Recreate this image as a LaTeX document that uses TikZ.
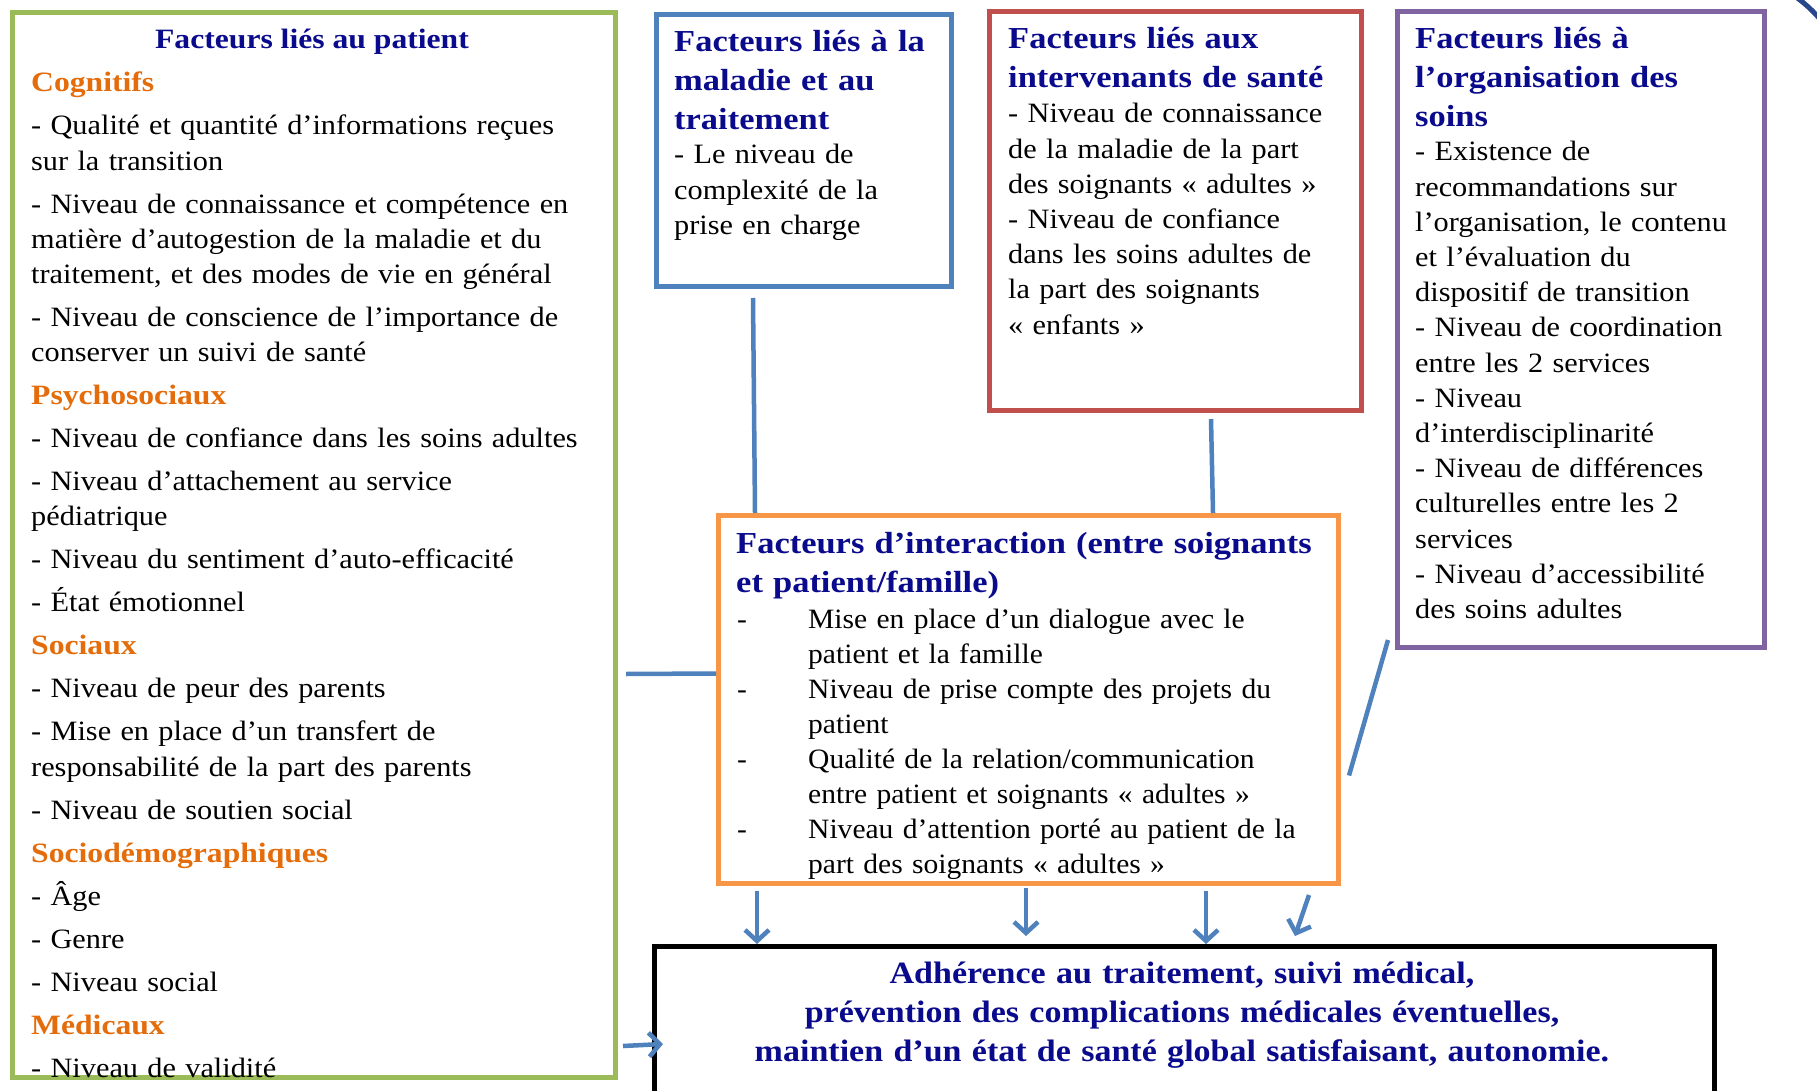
\documentclass[tikz,border=0pt]{standalone}
\usepackage{fontspec}
\setmainfont{Liberation Serif}
\newfontfamily\bodyfont{Liberation Serif}[FakeStretch=1.082]
\newfontfamily\narrowfont{Liberation Serif}[FakeStretch=1.055]
\newfontfamily\headfont{Liberation Serif}[FakeStretch=1.13]
\newfontfamily\resfont{Liberation Serif}[FakeStretch=1.097]
\usetikzlibrary{arrows.meta}
\definecolor{navytxt}{RGB}{10,10,140}
\definecolor{subor}{RGB}{228,108,10}
\definecolor{bgreen}{RGB}{155,187,89}
\definecolor{bblue}{RGB}{79,129,189}
\definecolor{bred}{RGB}{192,80,77}
\definecolor{bpurple}{RGB}{128,100,162}
\definecolor{borange}{RGB}{247,150,70}
\definecolor{lineblue}{RGB}{79,129,189}
\definecolor{arcblue}{RGB}{40,70,140}
\newcommand\subhd[1]{{\headfont\bfseries\color{subor}#1}}
\newcommand\odash{\leavevmode\llap{\makebox[71pt][l]{-}}}
\tikzset{
  box/.style={line width=5pt, inner sep=0pt, anchor=north west, fill=white},
  body/.style={anchor=base west, inner sep=0pt, align=left, text width=#1,
    font=\bodyfont\fontsize{28}{35.2}\selectfont},
  boxtitle/.style={anchor=base west, inner sep=0pt, align=left, text width=#1,
    text=navytxt, font=\headfont\bfseries\fontsize{30.5}{38.6}\selectfont},
  conn/.style={draw=lineblue, line width=4.5pt},
  arr/.style={conn, -{Straight Barb[length=11pt,width=24pt]}},
}
\begin{document}
\begin{tikzpicture}[x=1pt,y=-1pt]
\useasboundingbox (0,0) rectangle (1817,1091);
\clip (0,0) rectangle (1817,1091);
\fill[white] (0,0) rectangle (1817,1091);

% boxes
\node[box, draw=bgreen, minimum width=603pt, minimum height=1065pt] (green) at (10,10) {};
\node[box, draw=bblue, minimum width=295pt, minimum height=272pt] (blue) at (654,12) {};
\node[box, draw=bred, minimum width=372pt, minimum height=399pt] (red) at (987,9) {};
\node[box, draw=bpurple, minimum width=367pt, minimum height=636pt] (purple) at (1395,9) {};
\node[box, draw=borange, minimum width=620pt, minimum height=368pt] (orange) at (716,513) {};
\node[box, draw=black, minimum width=1060pt, minimum height=180pt] (result) at (652,944) {};

% corner arc
\draw[arcblue, line width=5pt] (1792,-6) .. controls (1803,2) and (1813,10) .. (1824,24);

% connectors
\draw[conn] ([xshift=99pt,yshift=-9pt]blue.south west) -- ([xshift=39pt]orange.north west);
\draw[conn] ([xshift=224pt,yshift=-6pt]red.south west) -- ([xshift=497pt]orange.north west);
\draw[conn] ([xshift=8pt,yshift=-664pt]green.north east) -- ([yshift=26pt]orange.west);
\draw[conn] ([xshift=-7pt,yshift=10pt]purple.south west) -- ([xshift=8pt,yshift=-76pt]orange.east);
\draw[arr] ([xshift=41pt,yshift=-5pt]orange.south west) -- ([xshift=105pt]result.north west);
\draw[arr] ([xshift=310pt,yshift=-2pt]orange.south west) -- ([xshift=374pt,yshift=8pt]result.north west);
\draw[arr] ([xshift=490pt,yshift=-5pt]orange.south west) -- ([xshift=554pt]result.north west);
\draw[arr] ([xshift=593pt,yshift=-9pt]orange.south west) -- ([xshift=643pt,yshift=8pt]result.north west);
\draw[arr] ([xshift=5pt,yshift=34pt]green.south east) -- ([xshift=11pt,yshift=-100pt]result.north west);

% green box text
\node[anchor=base, inner sep=0pt, text=navytxt, font=\headfont\bfseries\fontsize{28}{35.2}\selectfont] (gtitle) at (312,49) {Facteurs liés au patient};
\node[body=570pt] (gbody) at (31,92) {%
\subhd{Cognitifs}\\[7.8pt]
- Qualité et quantité d’informations reçues\\
sur la transition\\[7.8pt]
- Niveau de connaissance et compétence en\\
matière d’autogestion de la maladie et du\\
traitement, et des modes de vie en général\\[7.8pt]
- Niveau de conscience de l’importance de\\
conserver un suivi de santé\\[7.8pt]
\subhd{Psychosociaux}\\[7.8pt]
- Niveau de confiance dans les soins adultes\\[7.8pt]
- Niveau d’attachement au service\\
pédiatrique\\[7.8pt]
- Niveau du sentiment d’auto-efficacité\\[7.8pt]
- État émotionnel\\[7.8pt]
\subhd{Sociaux}\\[7.8pt]
- Niveau de peur des parents\\[7.8pt]
- Mise en place d’un transfert de\\
responsabilité de la part des parents\\[7.8pt]
- Niveau de soutien social\\[7.8pt]
\subhd{Sociodémographiques}\\[7.8pt]
- Âge\\[7.8pt]
- Genre\\[7.8pt]
- Niveau social\\[7.8pt]
\subhd{Médicaux}\\[7.8pt]
- Niveau de validité};

% blue box text
\node[boxtitle=270pt] (btitle) at (674,52) {Facteurs liés à la\\maladie et au\\traitement};
\node[body=270pt] (bbody) at (674,164) {- Le niveau de\\complexité de la\\prise en charge};

% red box text
\node[boxtitle=345pt] (rtitle) at (1008,49) {Facteurs liés aux\\intervenants de santé};
\node[body=345pt] (rbody) at (1008,123) {- Niveau de connaissance\\
de la maladie de la part\\
des soignants « adultes »\\
- Niveau de confiance\\
dans les soins adultes de\\
la part des soignants\\
« enfants »};

% purple box text
\node[boxtitle=340pt] (ptitle) at (1415,49) {Facteurs liés à\\l’organisation des\\soins};
\node[body=340pt] (pbody) at (1415,161) {- Existence de\\
recommandations sur\\
l’organisation, le contenu\\
et l’évaluation du\\
dispositif de transition\\
- Niveau de coordination\\
entre les 2 services\\
- Niveau\\
d’interdisciplinarité\\
- Niveau de différences\\
culturelles entre les 2\\
services\\
- Niveau d’accessibilité\\
des soins adultes};

% orange box text
\node[boxtitle=600pt, font=\headfont\bfseries\fontsize{30.5}{39}\selectfont] (otitle) at (736,553) {Facteurs d’interaction (entre soignants\\et patient/famille)};
\node[body=520pt, font=\narrowfont\fontsize{28}{35.1}\selectfont] (obody) at (808,628) {\odash Mise en place d’un dialogue avec le\\
patient et la famille\\
\odash Niveau de prise compte des projets du\\
patient\\
\odash Qualité de la relation/communication\\
entre patient et soignants « adultes »\\
\odash Niveau d’attention porté au patient de la\\
part des soignants « adultes »};

% result text
\node[anchor=base, inner sep=0pt, align=center, text width=1000pt, text=navytxt,
  font=\resfont\bfseries\fontsize{31}{39}\selectfont] (rtext) at (1182,983)
  {Adhérence au traitement, suivi médical,\\
   prévention des complications médicales éventuelles,\\
   maintien d’un état de santé global satisfaisant, autonomie.};
\end{tikzpicture}
\end{document}
